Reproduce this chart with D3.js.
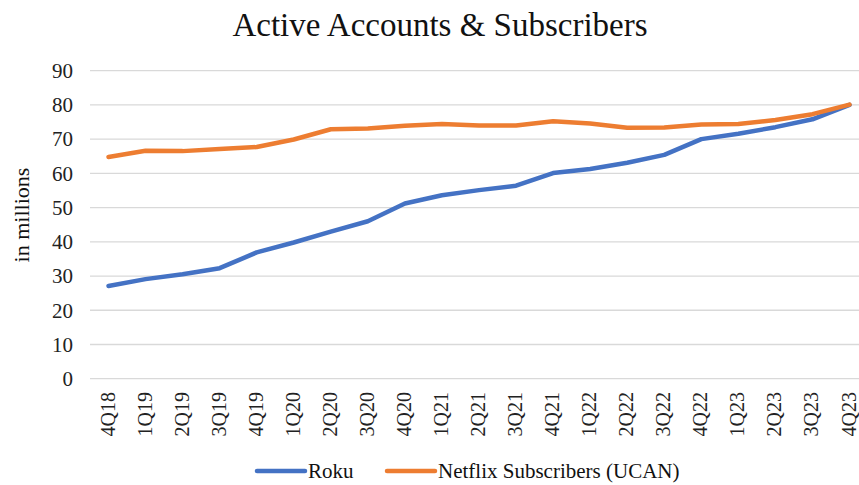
<!DOCTYPE html>
<html>
<head>
<meta charset="utf-8">
<script src="https://cdn.jsdelivr.net/npm/d3@7"></script>
<style>
  body { margin: 0; background: #fff; }
  svg { display: block; font-family: "Liberation Serif", "Times New Roman", serif; }
</style>
</head>
<body>
<div id="chart"></div>
<script>
var quarters = ["4Q18","1Q19","2Q19","3Q19","4Q19","1Q20","2Q20","3Q20","4Q20","1Q21","2Q21",
                "3Q21","4Q21","1Q22","2Q22","3Q22","4Q22","1Q23","2Q23","3Q23","4Q23"];
var roku = [27.1, 29.1, 30.5, 32.3, 36.9, 39.8, 43.0, 46.0, 51.2, 53.6, 55.1,
            56.4, 60.1, 61.3, 63.1, 65.4, 70.0, 71.6, 73.5, 75.8, 80.0];
var netflix = [64.8, 66.6, 66.5, 67.1, 67.7, 69.9, 72.9, 73.1, 73.9, 74.4, 74.0,
               74.0, 75.2, 74.6, 73.3, 73.4, 74.3, 74.4, 75.6, 77.3, 80.1];
var yTicks = [0, 10, 20, 30, 40, 50, 60, 70, 80, 90];

var series = [
  {name: "Roku", values: roku, color: "#4472C4"},
  {name: "Netflix Subscribers (UCAN)", values: netflix, color: "#ED7D31"}
];

var width = 859, height = 485;
var margin = {top: 70.7, left: 90, bottom: 106.3};

var svg = d3.select("#chart").append("svg")
  .attr("width", width)
  .attr("height", height);

var x = d3.scalePoint()
  .domain(quarters)
  .range([108.5, 849.5])

var y = d3.scaleLinear()
  .domain([0, 90])
  .range([height - margin.bottom, margin.top]);

// gridlines
svg.append("g")
  .selectAll("line")
  .data(yTicks)
  .enter()
  .append("line")
  .attr("x1", margin.left)
  .attr("x2", width + 10)
  .attr("y1", function(d) { return y(d); })
  .attr("y2", function(d) { return y(d); })
  .attr("stroke", "#d9d9d9")
  .attr("stroke-width", 1.3)

// y tick labels
svg.append("g")
  .selectAll("text")
  .data(yTicks)
  .enter()
  .append("text")
  .attr("x", 73)
  .attr("y", function(d) { return y(d); })
  .attr("dy", "0.35em")
  .attr("text-anchor", "end")
  .style("font-size", "21px")
  .attr("fill", "#222")
  .text(function(d) { return d; })

// x labels (rotated)
svg.append("g")
  .selectAll("text")
  .data(quarters)
  .enter()
  .append("text")
  .attr("transform", function(d) { return "translate(" + x(d) + ",392) rotate(-90)"; })
  .attr("dy", "0.3em")
  .attr("text-anchor", "end")
  .style("font-size", "20px")
  .attr("fill", "#222")
  .text(function(d) { return d; })

var line = d3.line()
  .x(function(d, i) { return x(quarters[i]); })
  .y(function(d) { return y(d); })

svg.append("g")
  .selectAll("path")
  .data(series)
  .enter()
  .append("path")
  .attr("d", function(s) { return line(s.values); })
  .attr("fill", "none")
  .attr("stroke", function(s) { return s.color; })
  .attr("stroke-width", 4.5)
  .attr("stroke-linejoin", "round")
  .attr("stroke-linecap", "round")

// title
svg.append("text")
  .attr("x", 440)
  .attr("y", 36)
  .attr("text-anchor", "middle")
  .style("font-size", "33px")
  .attr("fill", "#111")
  .text("Active Accounts & Subscribers")

// y axis title
svg.append("text")
  .attr("transform", "translate(21,215) rotate(-90)")
  .attr("dy", "0.35em")
  .attr("text-anchor", "middle")
  .style("font-size", "22px")
  .attr("fill", "#111")
  .text("in millions")

// legend
var legendX = [257, 387];
var legend = svg.append("g")
  .selectAll("g")
  .data(series)
  .enter()
  .append("g")
  .attr("transform", function(s, i) { return "translate(" + legendX[i] + ",471)"; })

legend.append("line")
  .attr("x1", 0).attr("x2", 48)
  .attr("stroke", function(s) { return s.color; })
  .attr("stroke-width", 4.5)
  .attr("stroke-linecap", "round")

legend.append("text")
  .attr("x", 51)
  .attr("dy", "0.35em")
  .style("font-size", "21px")
  .attr("fill", "#111")
  .text(function(s) { return s.name; })
</script>
</body>
</html>
